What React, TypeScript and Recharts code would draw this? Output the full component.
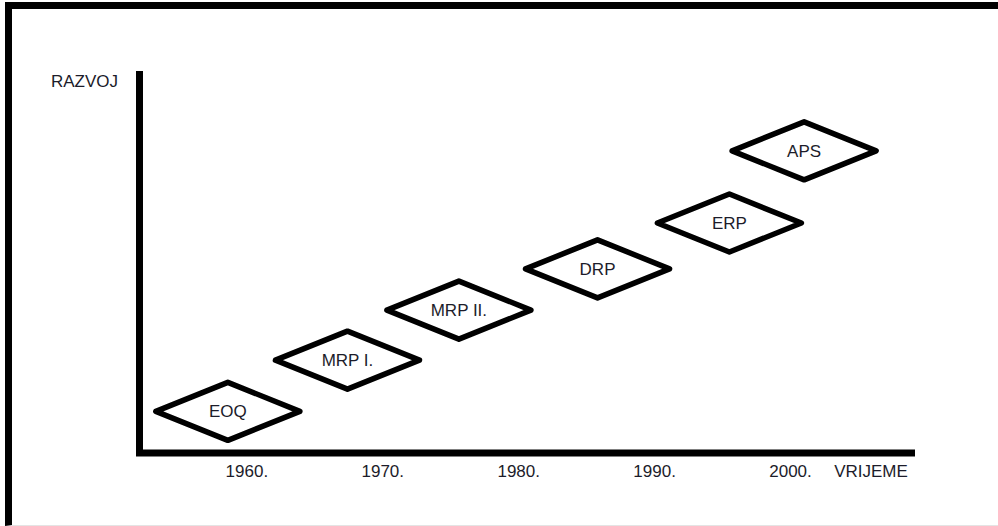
import React from 'react';
import { ScatterChart, Scatter, XAxis, YAxis, Label } from 'recharts';

const stageNames = ['EOQ', 'MRP I.', 'MRP II.', 'DRP', 'ERP', 'APS'];
const stageYears = [1958.6, 1967.4, 1975.6, 1985.8, 1995.5, 2001.0];
const stageLevels = [10.9, 24.3, 37.4, 48.2, 60.2, 79.1];
const yearTicks = [1960, 1970, 1980, 1990, 2000];
const xAxisName = 'VRIJEME';
const yAxisName = 'RAZVOJ';

const data = stageNames.map((name, i) => ({ name, year: stageYears[i], level: stageLevels[i] }));

const FONT = '"Liberation Sans", Arial, sans-serif';
const TEXT = '#1c1c2a';

const Diamond = (props: any) => {
  const { cx, cy, payload } = props;
  const hw = 72;
  const hh = 29;
  const pts = `${cx - hw},${cy} ${cx},${cy - hh} ${cx + hw},${cy} ${cx},${cy + hh}`;
  return (
    <g>
      <polygon points={pts} fill="#fff" stroke="#000" strokeWidth={5.5} strokeLinejoin="round" />
      <text x={cx} y={cy} dy="0.36em" textAnchor="middle" fontSize={17} fontFamily={FONT} fill={TEXT}>
        {payload.name}
      </text>
    </g>
  );
};

export default function App() {
  return (
    <div style={{ position: 'absolute', left: 0, top: 0, width: 998, height: 526, background: '#fff', overflow: 'hidden' }}>
      <div
        style={{
          position: 'absolute',
          left: 5,
          top: 2,
          width: 993,
          height: 524,
          boxSizing: 'border-box',
          borderTop: '7px solid #000',
          borderLeft: '7px solid #000',
          borderBottom: '1px solid #e4e4e4',
        }}
      />
      <div style={{ position: 'absolute', left: 0, top: 0 }}>
        <ScatterChart width={998} height={526} margin={{ top: 71, right: 86.5, bottom: 43, left: 0 }}>
          <XAxis
            type="number"
            dataKey="year"
            domain={[1952.1, 2008.9]}
            ticks={yearTicks}
            allowDataOverflow
            tickFormatter={(v: number) => `${v}.`}
            tickLine={false}
            axisLine={{ stroke: '#000', strokeWidth: 7, strokeLinecap: 'square' }}
            tick={{ fill: TEXT, fontSize: 17, fontFamily: FONT }}
            tickMargin={6}
            height={30}
          >
            <Label
              content={(p: any) => {
                const vb = p.viewBox || {};
                return (
                  <text x={vb.x + vb.width - 40.5} y={vb.y + 24} textAnchor="middle" fontSize={17} fontFamily={FONT} fill={TEXT}>
                    {xAxisName}
                  </text>
                );
              }}
            />
          </XAxis>
          <YAxis
            type="number"
            dataKey="level"
            domain={[0, 100]}
            allowDataOverflow
            tick={false}
            tickLine={false}
            axisLine={{ stroke: '#000', strokeWidth: 7 }}
            width={139.5}
          >
            <Label
              content={(p: any) => {
                const vb = p.viewBox || {};
                return (
                  <text x={84.5} y={vb.y + 16} textAnchor="middle" fontSize={17} fontFamily={FONT} fill={TEXT}>
                    {yAxisName}
                  </text>
                );
              }}
            />
          </YAxis>
          <Scatter data={data} isAnimationActive={false} shape={(p: any) => <Diamond {...p} />} />
        </ScatterChart>
      </div>
    </div>
  );
}
